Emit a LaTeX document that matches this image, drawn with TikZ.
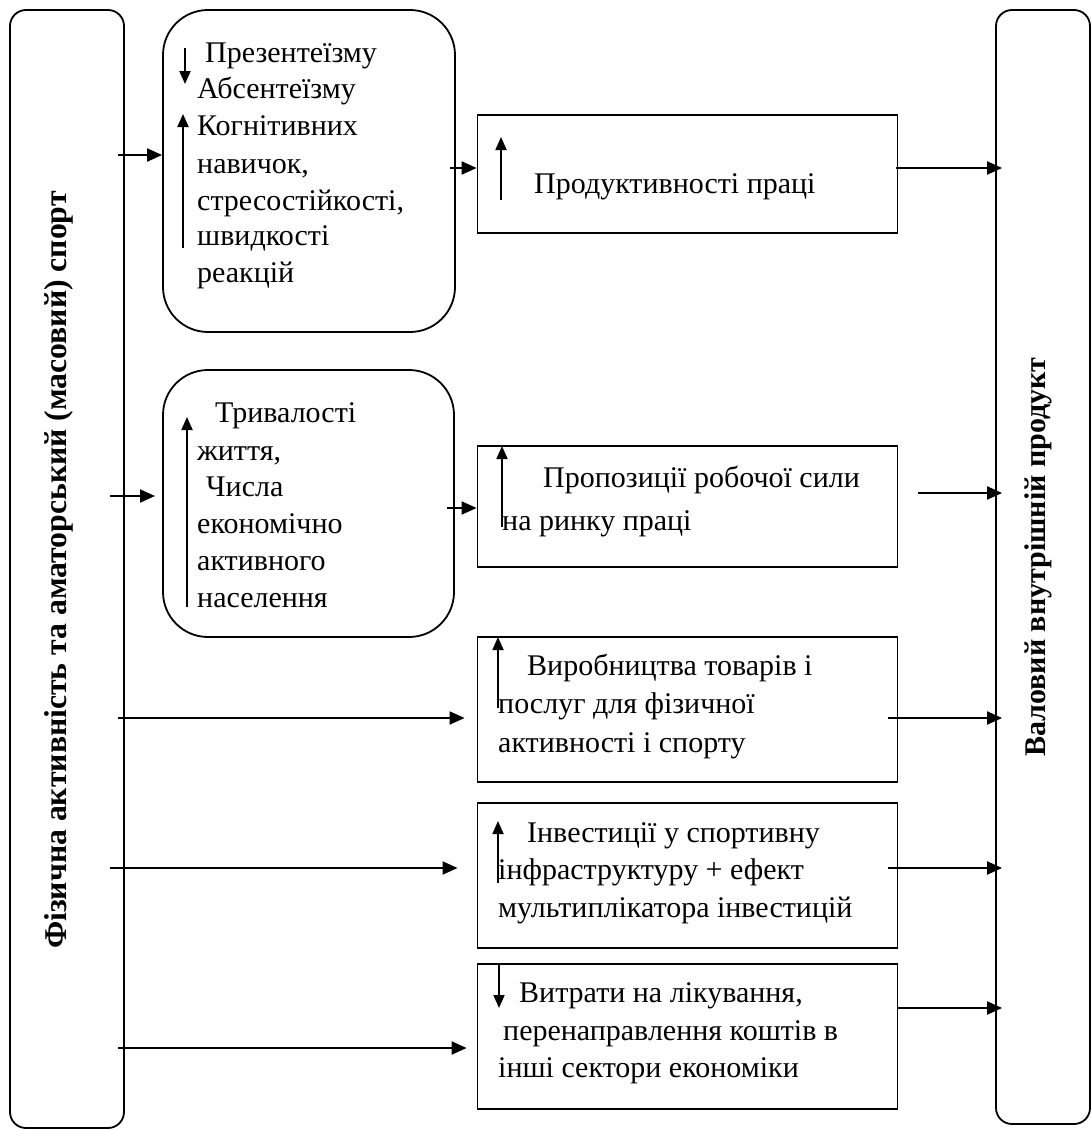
\documentclass[tikz,border=0pt]{standalone}
\usepackage{fontspec}
\setmainfont{Liberation Serif}
\usetikzlibrary{arrows.meta}
\begin{document}
\begin{tikzpicture}[x=1pt,y=-1pt]
\tikzset{
 frame/.style={draw, line width=1.8pt, inner sep=0pt, rectangle},
 sidebox/.style={frame, rounded corners=16pt},
 midbox/.style={frame, rounded corners=45pt},
 txt/.style={anchor=base west, inner sep=0pt, font=\fontsize{30}{36}\selectfont},
 vtxt/.style={rotate=90, anchor=base, inner sep=0pt, font=\fontsize{30}{36}\selectfont\bfseries},
 conn/.style={line width=2pt, -{Triangle[length=15pt,width=13pt]}},
 trend/.style={line width=1.8pt, -{Triangle[length=13pt,width=11pt]}},
}
\fill[white] (0,0) rectangle (1092,1130);
\useasboundingbox (0,0) rectangle (1092,1130);

% side boxes
\node[sidebox, minimum width=114pt, minimum height=1118pt] (L) at (67,569) {};
\node[sidebox, minimum width=94pt, minimum height=1114pt] (R) at (1043,567) {};
\node[vtxt, font=\fontsize{31.7}{36}\selectfont\bfseries] (Lt) at (66,570) {Фізична активність та аматорський (масовий) спорт};
\node[vtxt] (Rt) at (1045,557) {Валовий внутрішній продукт};

% middle rounded boxes
\node[midbox, minimum width=292pt, minimum height=322pt] (B1) at (309,171) {};
\node[midbox, minimum width=291pt, minimum height=267pt] (B2) at (308.5,503.5) {};

% right rectangles
\node[frame, minimum width=420pt, minimum height=118pt] (P1) at (687.5,174) {};
\node[frame, minimum width=420pt, minimum height=121pt] (P2) at (687.5,506.5) {};
\node[frame, minimum width=420pt, minimum height=145pt] (P3) at (687.5,709.5) {};
\node[frame, minimum width=420pt, minimum height=145pt] (P4) at (687.5,875.5) {};
\node[frame, minimum width=420pt, minimum height=145pt] (P5) at (687.5,1036.5) {};

% texts box 1
\node[txt] (b1a) at (205,62) {Презентеїзму};
\node[txt] (b1b) at (197,98) {Абсентеїзму};
\node[txt] (b1c) at (197,135) {Когнітивних};
\node[txt] (b1d) at (197,173) {навичок,};
\node[txt] (b1e) at (197,210) {стресостійкості,};
\node[txt] (b1f) at (197,245) {швидкості};
\node[txt] (b1g) at (197,282) {реакцій};
\draw[trend] (185,48) -- (185,84);
\draw[trend] (183,248) -- (183,114);

% texts box 2
\node[txt] (b2a) at (215,422) {Тривалості};
\node[txt] (b2b) at (197,460) {життя,};
\node[txt] (b2c) at (206,496) {Числа};
\node[txt] (b2d) at (197,533) {економічно};
\node[txt] (b2e) at (197,570) {активного};
\node[txt] (b2f) at (197,607) {населення};
\draw[trend] (187,607) -- (187,417);

% P1
\node[txt] (p1a) at (534,193) {Продуктивності праці};
\draw[trend] (501,200) -- (501,137);
% P2
\node[txt] (p2a) at (543,487) {Пропозиції робочої сили};
\node[txt] (p2b) at (502,530) {на ринку праці};
\draw[trend] (502,527) -- (502,446);
% P3
\node[txt] (p3a) at (527,675) {Виробництва товарів і};
\node[txt] (p3b) at (498,713) {послуг для фізичної};
\node[txt] (p3c) at (498,752) {активності і спорту};
\draw[trend] (498,708) -- (498,637);
% P4
\node[txt] (p4a) at (527,842) {Інвестиції у спортивну};
\node[txt] (p4b) at (498,879) {інфраструктуру + ефект};
\node[txt] (p4c) at (498,917) {мультиплікатора інвестицій};
\draw[trend] (498,883) -- (498,821);
% P5
\node[txt] (p5a) at (519,1002) {Витрати на лікування,};
\node[txt] (p5b) at (503,1040) {перенаправлення коштів в};
\node[txt] (p5c) at (498,1077) {інші сектори економіки};
\draw[trend] (499,963) -- (499,1008);

% connectors
\coordinate (s1) at (118,155);
\draw[conn] (s1) -- (s1 -| B1.west);
\coordinate (s2) at (450,168);
\draw[conn] (s2) -- (s2 -| P1.west);
\coordinate (s3) at (896,168);
\draw[conn, shorten >=-7pt] (s3) -- (s3 -| R.west);

\coordinate (s4) at (110,496);
\draw[conn] (s4) -- (155,496);
\coordinate (s5) at (447,508);
\draw[conn] (s5) -- (s5 -| P2.west);
\coordinate (s6) at (918,493);
\draw[conn, shorten >=-7pt] (s6) -- (s6 -| R.west);

\coordinate (s7) at (118,718);
\draw[conn, shorten >=12pt] (s7) -- (s7 -| P3.west);
\coordinate (s8) at (888,718);
\draw[conn, shorten >=-7pt] (s8) -- (s8 -| R.west);

\coordinate (s9) at (110,868);
\draw[conn, shorten >=19pt] (s9) -- (s9 -| P4.west);
\coordinate (s10) at (888,868);
\draw[conn, shorten >=-7pt] (s10) -- (s10 -| R.west);

\coordinate (s11) at (118,1048);
\draw[conn, shorten >=10pt] (s11) -- (s11 -| P5.west);
\coordinate (s12) at (897,1008);
\draw[conn, shorten >=-7pt] (s12) -- (s12 -| R.west);
\end{tikzpicture}
\end{document}
